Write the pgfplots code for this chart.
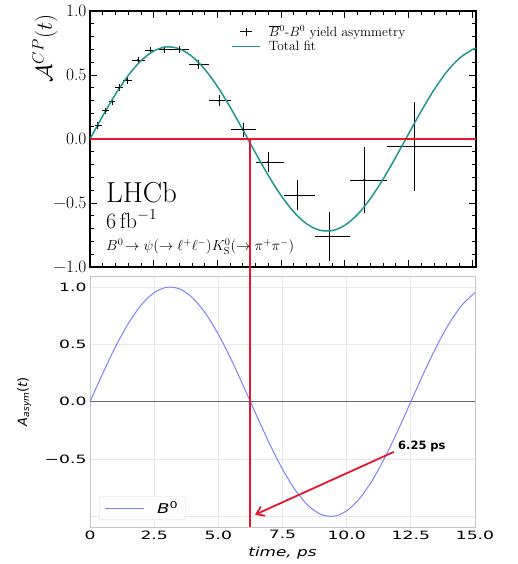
\documentclass[border=0pt]{standalone}
\usepackage{fix-cm}
\usepackage{fontspec}
\usepackage{pgfplots}
\pgfplotsset{compat=1.18}
\usetikzlibrary{arrows.meta}
\newfontfamily\dvw[FakeStretch=1.5]{DejaVu Sans}
\newfontfamily\dvm[FakeStretch=1.35]{DejaVu Sans}
\newfontfamily\dv{DejaVu Sans}
\definecolor{fitteal}{RGB}{32,150,148}
\definecolor{lred}{RGB}{228,24,44}
\definecolor{mblue}{RGB}{128,128,255}
\begin{document}
\begin{tikzpicture}
\useasboundingbox (0bp,0bp) rectangle (518bp,564bp);
% ---------------- top LHCb panel ----------------
\begin{axis}[
  at={(90bp,297bp)}, anchor=south west, scale only axis,
  width=386bp, height=256bp,
  xmin=0, xmax=15.15, ymin=-1, ymax=1,
  xtick={0,2.5,5,7.5,10,12.5,15}, minor x tick num=4, xticklabels={},
  ytick={-1,-0.5,0,0.5,1}, minor y tick num=4,
  yticklabels={−1.0,−0.5,0.0,0.5,1.0},
  tick align=inside, tick pos=both,
  major tick length=7bp, minor tick length=4bp,
  axis line style={line width=1.2bp},
  tick style={black, line width=0.8bp},
  yticklabel style={font=\fontsize{17.5}{19}\selectfont},
  ylabel={\fontsize{23}{25}\selectfont$\mathcal{A}^{CP}(t)$},
  ylabel style={at={(axis description cs:-0.1166,1)}, anchor=east},
  legend style={draw=none, fill=none, at={(axis description cs:0.358,0.961)}, anchor=north west,
    font=\fontsize{13.5}{15}\selectfont, row sep=-1bp},
  legend cell align=left,
]
\addplot[forget plot, only marks, mark=*, mark size=0.9bp, black,
  error bars/.cd, x dir=both, x explicit, y dir=both, y explicit,
  error bar style={line width=0.8bp, black}, error mark=none]
  table[x=t, y=a, x error plus=xp, x error minus=xm, y error=ey] {
t a xm xp ey
0.31 0.104 0.11 0.16 0.026
0.62 0.22 0.15 0.13 0.026
0.88 0.29 0.13 0.12 0.026
1.15 0.40 0.15 0.15 0.026
1.46 0.46 0.16 0.20 0.028
1.88 0.615 0.22 0.26 0.028
2.37 0.69 0.23 0.23 0.025
2.91 0.70 0.31 0.31 0.025
3.52 0.70 0.30 0.35 0.030
4.24 0.58 0.37 0.43 0.035
5.07 0.30 0.40 0.45 0.040
6.02 0.072 0.50 0.48 0.056
7.00 -0.18 0.50 0.62 0.075
8.14 -0.44 0.52 0.70 0.117
9.40 -0.76 0.56 0.79 0.190
10.77 -0.32 0.58 0.89 0.260
12.75 -0.06 1.09 2.25 0.350
};
\addplot[forget plot, fitteal, line width=1.5bp, smooth] coordinates {
(0,0) (0.5,0.1806) (1.0,0.3496) (1.5,0.4963) (2.0,0.6113) (2.5,0.6872)
(3.0,0.7191) (3.5,0.7051) (4.0,0.6458) (4.5,0.5457) (5.0,0.4105) (5.5,0.2490)
(6.0,0.0716) (6.5,-0.1104) (7.0,-0.2853) (7.5,-0.4420) (8.0,-0.5705) (8.5,-0.6625)
(9.0,-0.7120) (9.5,-0.7161) (10.0,-0.6745) (10.5,-0.5897) (11.0,-0.4672) (11.5,-0.3149)
(12.0,-0.1425) (12.5,0.0391) (13.0,0.2182) (13.5,0.3833) (14.0,0.5239) (14.5,0.6309)
(15.0,0.6978) (15.15,0.7092)};
\addlegendimage{legend image code/.code={\draw[black,line width=0.8bp] (8bp,0bp)--(20bp,0bp) (14bp,-4bp)--(14bp,4bp);}}
\addlegendentry{\makebox[150bp][l]{\hspace*{6bp}$\overline{B}{}^0$-$B^0$ yield asymmetry}}
\addlegendimage{legend image code/.code={\draw[fitteal,line width=1.5bp] (0bp,0bp)--(28bp,0bp);}}
\addlegendentry{\makebox[150bp][l]{\hspace*{6bp}Total fit}}
\draw[lred, line width=2bp] (axis cs:0,0) -- (axis cs:15.15,0);
\coordinate (tz) at (axis cs:0,0);
\end{axis}
\node[anchor=base west, inner sep=0pt, font=\fontsize{29}{30}\selectfont] at (106bp,361bp) {LHCb};
\node[anchor=base west, inner sep=0pt, font=\fontsize{22}{24}\selectfont] at (106bp,335bp) {$6\,\mathrm{fb}^{-1}$};
\node[anchor=base west, inner sep=0pt, font=\fontsize{14.6}{16}\selectfont] at (106bp,313bp)
  {$B^0\!\to\psi(\to\ell^+\ell^-)K^0_{\mathrm{S}}(\to\pi^+\pi^-)$};
% ---------------- bottom panel ----------------
\begin{axis}[
  at={(90bp,37bp)}, anchor=south west, scale only axis,
  width=385bp, height=251bp,
  xmin=0, xmax=15, ymin=-1.092, ymax=1.096,
  xtick={0,2.5,5,7.5,10,12.5,15}, xticklabels={0,2.5,5.0,7.5,10.0,12.5,15.0},
  ytick={-1,-0.5,0,0.5,1}, yticklabels={,−0.5,0.0,0.5,1.0},
  tick label style={font=\dvw\fontsize{11.5}{13}\selectfont},
  major tick length=0pt,
  grid=major, major grid style={gray!18, line width=0.8bp},
  axis line style={gray!45, line width=0.8bp},
  xlabel={\itshape time, ps},
  xlabel style={at={(axis description cs:0.5,-0.1036)}, anchor=center, font=\dvm\fontsize{12.5}{14}\selectfont},
  ylabel={\itshape A\textsubscript{asym}\upshape(\itshape t\upshape)},
  ylabel style={at={(axis description cs:-0.171,0.5)}, anchor=center, font=\dv\fontsize{13}{15}\selectfont},
  legend style={at={(axis description cs:0.0234,0.0279)}, anchor=south west,
    draw=gray!30, rounded corners=3bp, fill=white, font=\dvm\fontsize{13.5}{15}\selectfont,
    inner xsep=5bp, inner ysep=3bp},
  legend image code/.code={\draw[#1] (0bp,0bp) -- (39bp,0bp); \path (50bp,0bp);},
  clip=false,
]
\addplot[forget plot, gray!80!black, line width=0.8bp] coordinates {(0,0) (15,0)};
\addplot[mblue, line width=1bp, smooth] coordinates {
(0,0) (0.5,0.2487) (1.0,0.4818) (1.5,0.6845) (2.0,0.8443) (2.5,0.9511)
(3.0,0.9980) (3.5,0.9823) (4.0,0.9048) (4.5,0.7705) (5.0,0.5878) (5.5,0.3681)
(6.0,0.1253) (6.5,-0.1253) (7.0,-0.3681) (7.5,-0.5878) (8.0,-0.7705) (8.5,-0.9048)
(9.0,-0.9823) (9.5,-0.9980) (10.0,-0.9511) (10.5,-0.8443) (11.0,-0.6845) (11.5,-0.4818)
(12.0,-0.2487) (12.5,0) (13.0,0.2487) (13.5,0.4818) (14.0,0.6845) (14.5,0.8443)
(15.0,0.9511)};
\addlegendentry{\itshape B\textsuperscript{\upshape 0}}
\draw[lred, line width=1.8bp, -{Straight Barb[length=7bp,width=10bp]}] (axis cs:11.84,-0.437) -- (axis cs:6.43,-0.985);
\node[anchor=west, inner sep=0pt, font=\dv\bfseries\fontsize{11.5}{13}\selectfont] at (axis cs:12.0,-0.394) {6.25 ps};
\coordinate (bz) at (axis cs:6.22,-1.092);
\end{axis}
\draw[lred, line width=2.2bp] (bz) -- (bz |- tz);
\end{tikzpicture}
\end{document}
